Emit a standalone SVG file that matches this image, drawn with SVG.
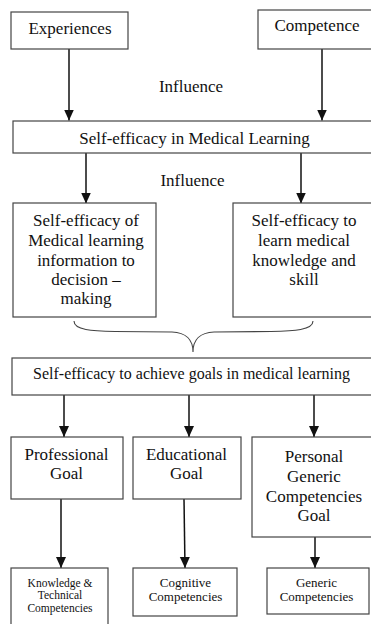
<svg xmlns="http://www.w3.org/2000/svg" width="371" height="624" viewBox="0 0 371 624">
<style>
.box{fill:#fff;stroke:#444;stroke-width:1.2}
.t{font-family:'Liberation Serif',serif;fill:#111;text-anchor:middle}
.f17{font-size:17px}
.f16{font-size:16px}
.f13{font-size:13px}
.f11{font-size:11.5px}
.c{stroke:#111;stroke-width:1.5;fill:none}
</style>
<defs>
<marker id="ah" markerUnits="userSpaceOnUse" markerWidth="12" markerHeight="12" viewBox="0 0 12 12" refX="11" refY="6" orient="auto">
<path d="M0,1 L11,6 L0,11 Z" fill="#111"/>
</marker>
</defs>
<rect width="371" height="624" fill="#fff"/>
<g id="connectors">
<line class="c" x1="69" y1="49" x2="69" y2="120.5" marker-end="url(#ah)"/>
<line class="c" x1="322" y1="49" x2="322" y2="120.5" marker-end="url(#ah)"/>
<line class="c" x1="86" y1="153" x2="86" y2="203.5" marker-end="url(#ah)"/>
<line class="c" x1="301" y1="153" x2="301" y2="203.5" marker-end="url(#ah)"/>
<line class="c" x1="64" y1="395" x2="64" y2="437" marker-end="url(#ah)"/>
<line class="c" x1="189" y1="395" x2="189" y2="437" marker-end="url(#ah)"/>
<line class="c" x1="314" y1="395" x2="314" y2="437" marker-end="url(#ah)"/>
<line class="c" x1="61" y1="499" x2="61" y2="568" marker-end="url(#ah)"/>
<line class="c" x1="184" y1="499" x2="185" y2="568" marker-end="url(#ah)"/>
<line class="c" x1="315" y1="537" x2="315" y2="568" marker-end="url(#ah)"/>
<path d="M74,321 C74,330 92,331 115,331.5 L172,332 C186,332.5 193,340 193,352 C193,340 200,332.5 214,332 L271,331.5 C294,331 313,330 313,321" stroke="#444" stroke-width="1.1" fill="none"/>
<text class="t f17" x="191" y="92">Influence</text>
<text class="t f17" x="192.5" y="186">Influence</text>
</g>
<g id="experiences">
<rect class="box" x="11" y="12" width="117" height="37"/>
<text class="t f17" x="70" y="34">Experiences</text>
</g>
<g id="competence">
<rect class="box" x="258" y="10" width="118" height="39"/>
<text class="t f17" x="317" y="31">Competence</text>
</g>
<g id="sem">
<rect class="box" x="13" y="121" width="362" height="32"/>
<text class="t f17" x="194.5" y="144">Self-efficacy in Medical Learning</text>
</g>
<g id="info">
<rect class="box" x="13" y="203" width="143" height="114"/>
<text class="t f17" x="86" y="226">Self-efficacy of</text>
<text class="t f17" x="86" y="246">Medical learning</text>
<text class="t f17" x="86" y="266">information to</text>
<text class="t f17" x="86" y="285">decision –</text>
<text class="t f17" x="86" y="304">making</text>
</g>
<g id="knowledge">
<rect class="box" x="233" y="203" width="142" height="114"/>
<text class="t f17" x="304" y="226">Self-efficacy to</text>
<text class="t f17" x="304" y="246">learn medical</text>
<text class="t f17" x="304" y="266">knowledge and</text>
<text class="t f17" x="304" y="285">skill</text>
</g>
<g id="goals">
<rect class="box" x="12" y="358" width="363" height="37"/>
<text class="t f16" x="191.5" y="379">Self-efficacy to achieve goals in medical learning</text>
</g>
<g id="professional">
<rect class="box" x="11" y="437" width="112" height="62"/>
<text class="t f17" x="66.5" y="460">Professional</text>
<text class="t f17" x="66.5" y="479">Goal</text>
</g>
<g id="educational">
<rect class="box" x="133" y="437" width="108" height="62"/>
<text class="t f17" x="186.5" y="460">Educational</text>
<text class="t f17" x="186.5" y="479">Goal</text>
</g>
<g id="personal">
<rect class="box" x="252" y="437" width="123" height="100"/>
<text class="t f17" x="314" y="462">Personal</text>
<text class="t f17" x="314" y="482">Generic</text>
<text class="t f17" x="314" y="502">Competencies</text>
<text class="t f17" x="314" y="521">Goal</text>
</g>
<g id="ktc">
<rect class="box" x="11" y="568" width="97" height="60"/>
<text class="t f11" x="60" y="586.5">Knowledge &amp;</text>
<text class="t f11" x="60" y="599">Technical</text>
<text class="t f11" x="60" y="611.5">Competencies</text>
</g>
<g id="cognitive">
<rect class="box" x="133" y="568" width="104" height="48"/>
<text class="t f13" x="185.5" y="587">Cognitive</text>
<text class="t f13" x="185.5" y="601">Competencies</text>
</g>
<g id="generic">
<rect class="box" x="267" y="568" width="102" height="46"/>
<text class="t f13" x="316.5" y="587">Generic</text>
<text class="t f13" x="316.5" y="601">Competencies</text>
</g>
</svg>
